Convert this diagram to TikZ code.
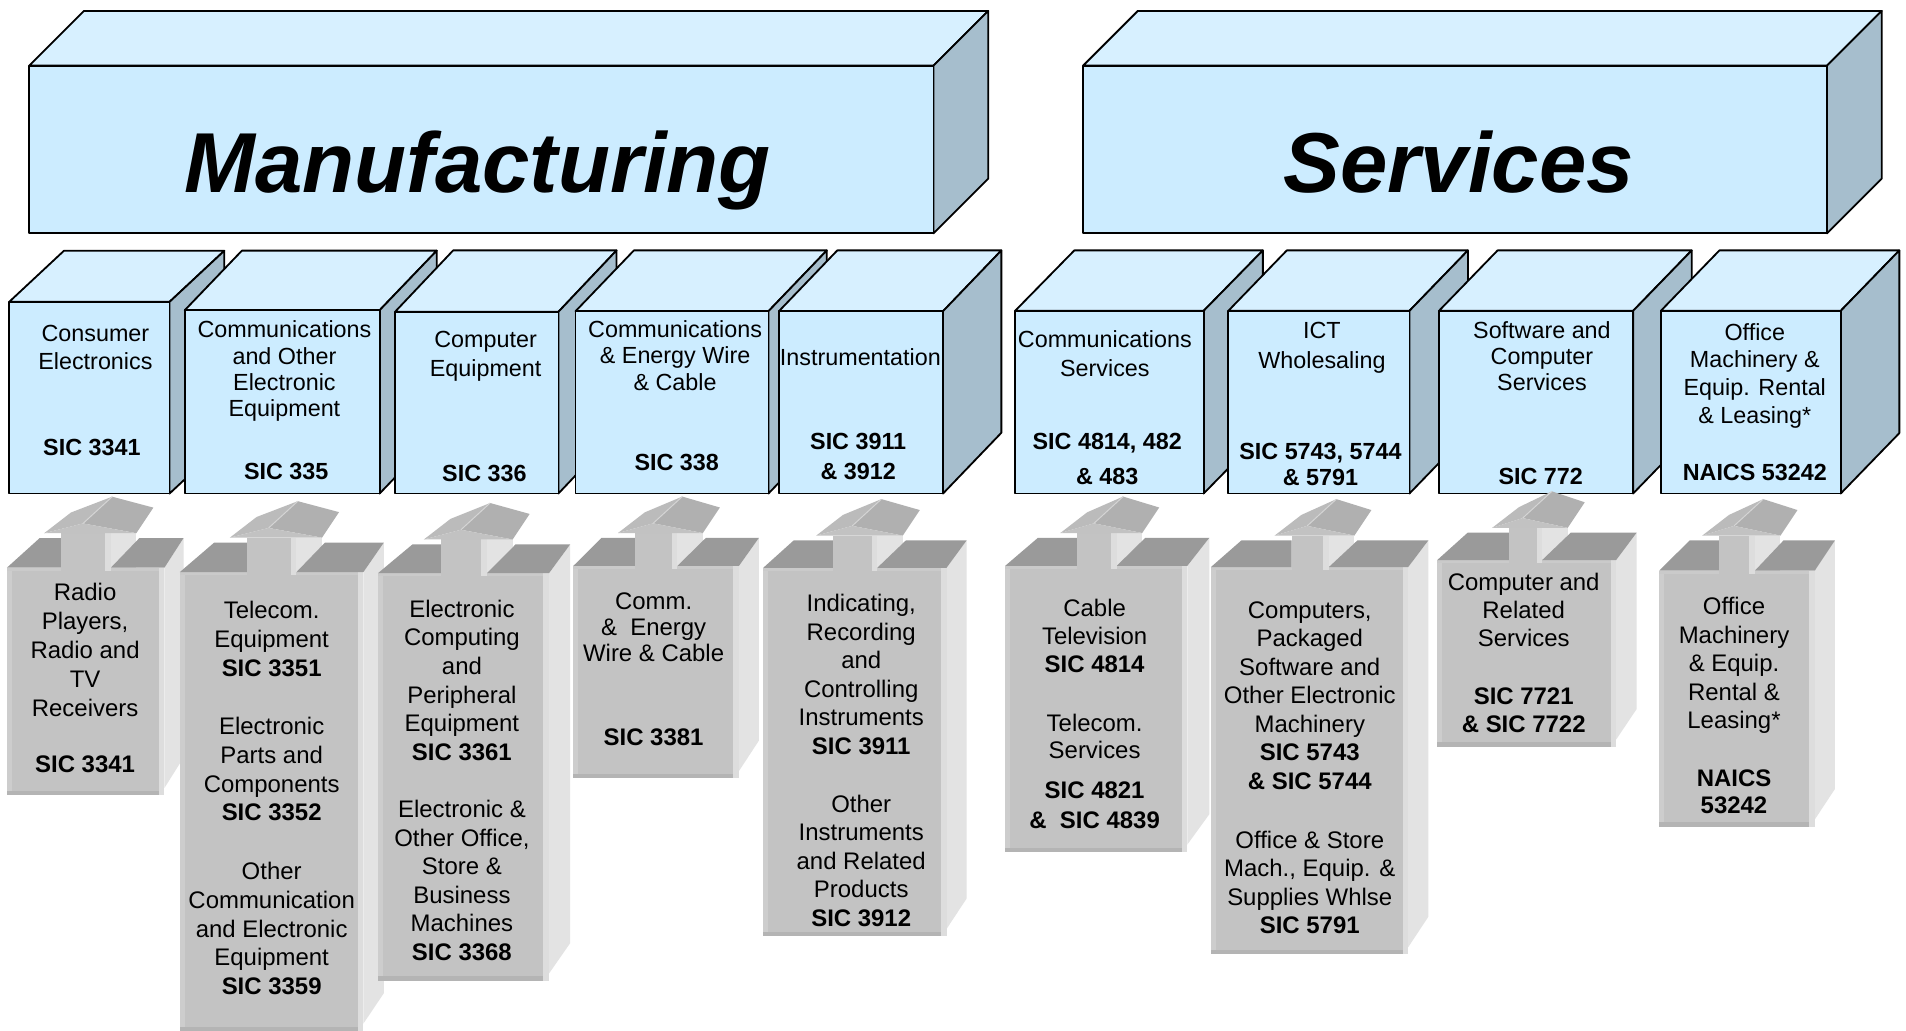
\documentclass[tikz,border=0pt]{standalone}
\usepackage{fontspec}
\setmainfont{Liberation Sans}

% blue cube colours
\definecolor{cubefront}{HTML}{CCECFF}
\definecolor{cubetop}{HTML}{D7F0FF}
\definecolor{cubeside}{HTML}{A6BECD}
% grey pillar colours
\definecolor{pilfront}{HTML}{C3C3C3}
\definecolor{pilleft}{HTML}{CDCDCD}
\definecolor{pilstrip}{HTML}{DDDDDD}
\definecolor{pilbottom}{HTML}{B4B4B4}
\definecolor{piledge}{HTML}{CACACA}
\definecolor{pilside}{HTML}{E3E3E3}
\definecolor{piltop}{HTML}{9A9A9A}
\definecolor{headleft}{HTML}{BBBBBB}
\definecolor{headright}{HTML}{B0B0B0}
\definecolor{headfront}{HTML}{C2C2C2}
\definecolor{headridge}{HTML}{D5D5D5}

\tikzset{
  cube front/.style={fill=cubefront, draw=black, line width=1.5pt, line join=round},
  cube top/.style={fill=cubetop, draw=black, line width=1.5pt, line join=round},
  cube side/.style={fill=cubeside, draw=black, line width=1.5pt, line join=round},
  headtxt/.style={font=\fontsize{70}{84}\selectfont\bfseries\itshape, anchor=base, inner sep=0pt},
  btxt/.style={font=\fontsize{19.2}{#1}\selectfont, align=center, anchor=north, inner sep=0pt},
  btxt/.default=22,
  gtxt/.style={font=\fontsize{19.7}{#1}\selectfont, align=center, anchor=north, inner sep=0pt},
  gtxt/.default=23.6
}

% blue cube: left, right, front top, bottom, depth x, depth y
\newcommand\cubebox[6]{%
  \filldraw[cube top] (#1,#3) -- (#1+#5,#3-#6) -- (#2+#5,#3-#6) -- (#2,#3) -- cycle;
  \filldraw[cube side] (#2,#3) -- (#2+#5,#3-#6) -- (#2+#5,#4-#6) -- (#2,#4) -- cycle;
  \filldraw[cube front] (#1,#3) rectangle (#2,#4);
}

% grey pillar with an upward arrow on its top
% #1 left, #2 right of front face, #3 front top, #4 back top, #5 bottom,
% #6 stem left, #7 stem right, #8 depth of left top face, #9 right of side face
\newcommand\pillar[9]{%
  \pgfmathsetmacro\pxs{#2+4.6}%
  \pgfmathsetmacro\plip{#4-4}%
  \pgfmathsetmacro\pbs{#7+4.6}%
  \pgfmathsetmacro\pL{#6-14}%
  \pgfmathsetmacro\pR{\pbs+21}%
  \pgfmathsetmacro\pA{(\pL+\pR)/2-6}%
  \fill[pilside] (\pxs,#3) -- (#9,#4) -- (#9,#5-31) -- (\pxs,#5-6) -- cycle;
  \fill[pilfront] (#1,#3) rectangle (#2,#5);
  \fill[pilleft] (#1,#3) rectangle (#1+4,#5);
  \fill[pilstrip] (#2,#3) rectangle (\pxs,#5);
  \fill[pilbottom] (#1,#5-3.5) rectangle (#2,#5);
  \fill[piledge] (#1,#3) rectangle (#2,#3+2.5);
  \fill[pilside] (\pbs,\plip) rectangle (\pR,#3);
  \fill[piltop] (#1,#3) -- (#1+#8,#4) -- (#6,#4) -- (#6,#3) -- cycle;
  \fill[piltop] (\pbs,#3) -- (\pbs+23.5,#4) -- (#9,#4) -- (\pxs,#3) -- cycle;
  \fill[pilfront] (#6,\plip) rectangle (#7,#3+2.5);
  \fill[pilstrip] (#7,\plip) rectangle (\pbs,#3+2.5);
  \fill[headleft] (\pL,\plip) -- (\pA,\plip-8) -- (\pA+24,\plip-30) -- (\pL+22,\plip-17) -- cycle;
  \fill[headright] (\pA,\plip-8) -- (\pR,\plip) -- (\pR+14,\plip-21) -- (\pA+24,\plip-30) -- cycle;
  \fill[headfront] (\pL,\plip) -- (\pA,\plip-8) -- (\pR,\plip) -- cycle;
  \draw[headridge, line width=0.8pt] (\pA,\plip-8) -- (\pA+24,\plip-30);
}

\begin{document}
\begin{tikzpicture}[x=1pt,y=-1pt]
\fill[white] (0,0) rectangle (1568,848);
\useasboundingbox (0,0) rectangle (1568,848);

% sector headings
\cubebox{24}{768}{54}{192}{45}{45}
\cubebox{891}{1503}{54}{192}{45}{45}
\node[headtxt] (manu) at (393,158.5) {Manufacturing};
\node[headtxt] (serv) at (1200,158.5) {Services};

% industry groups
\cubebox{7.6}{139.5}{248.3}{406}{45}{42}
\cubebox{152}{312.3}{255.2}{406}{47}{49}
\cubebox{325}{459.4}{256.5}{406}{47.8}{50.5}
\cubebox{473.5}{632.2}{256}{406}{48}{50}
\cubebox{640.8}{775.8}{256}{406}{48}{50}
\cubebox{835.1}{990.2}{255.7}{406}{48.7}{49.7}
\cubebox{1010.5}{1159.5}{255.7}{406}{48.1}{49.7}
\cubebox{1183.8}{1343.5}{255.7}{406}{48.2}{49.7}
\cubebox{1366.3}{1514.3}{255.7}{406}{48.2}{49.7}

\node[btxt=22.7] (g1) at (78.5,267.6) {Consumer\\Electronics};
\node[btxt] (g1s) at (75.6,361.4) {\textbf{SIC 3341}};
\node[btxt=21.6] (g2) at (234,263.8) {Communications\\and Other\\Electronic\\Equipment};
\node[btxt] (g2s) at (235.5,380.5) {\textbf{SIC 335}};
\node[btxt=23.2] (g3) at (399.5,272.6) {Computer\\Equipment};
\node[btxt] (g3s) at (398.5,382.7) {\textbf{SIC 336}};
\node[btxt=21.5] (g4) at (555.4,263.8) {Communications\\\& Energy Wire\\\& Cable};
\node[btxt] (g4s) at (556.7,373.1) {\textbf{SIC 338}};
\node[btxt] (g5) at (707.8,286.2) {Instrumentation};
\node[btxt=24.7] (g5s) at (706,355.8) {\textbf{SIC 3911}\\\textbf{\& 3912}};
\node[btxt=23.8] (g6) at (908.9,272) {Communications\\Services};
\node[btxt=28.7] (g6s) at (910.9,355.9) {\textbf{SIC 4814, 482}\\\textbf{\& 483}};
\node[btxt=24.5] (g7) at (1087.5,265) {ICT\\Wholesaling};
\node[btxt=22] (g7s) at (1086.3,364.1) {\textbf{SIC 5743, 5744}\\\textbf{\& 5791}};
\node[btxt=21.2] (g8) at (1268.5,264.4) {Software and\\Computer\\Services};
\node[btxt] (g8s) at (1267.5,385.1) {\textbf{SIC 772}};
\node[btxt=22.8] (g9) at (1443.6,265.8) {Office\\Machinery \&\\Equip. Rental\\\& Leasing*};
\node[btxt] (g9s) at (1443.6,381.8) {\textbf{NAICS 53242}};

% detailed industries
\pillar{5.7}{130.7}{467}{442.6}{654.2}{50.4}{86.6}{27}{151}
\node[gtxt=23.85] (pA) at (70,479.6) {Radio\\Players,\\Radio and\\TV\\Receivers\\[22.35pt]\textbf{SIC 3341}};

\pillar{148}{294.4}{470.6}{446.3}{848}{203.1}{239.3}{28.3}{315.8}
\node[gtxt=23.6] (pB) at (223.5,494.6) {Telecom.\\Equipment\\\textbf{SIC 3351}\\[24.7pt]Electronic\\Parts and\\Components\\\textbf{SIC 3352}\\[24.9pt]Other\\Communication\\and Electronic\\Equipment\\\textbf{SIC 3359}};

\pillar{311}{447.1}{471.5}{447.8}{806.8}{362.7}{396.1}{28.4}{469.1}
\node[gtxt=23.55] (pC) at (380,493.2) {Electronic\\Computing\\and\\Peripheral\\Equipment\\\textbf{SIC 3361}\\[23.5pt]Electronic \&\\Other Office,\\Store \&\\Business\\Machines\\\textbf{SIC 3368}};

\pillar{471.6}{603.3}{465.6}{442.5}{640.3}{522.4}{552.6}{23.3}{624.3}
\node[gtxt=21.4] (pD) at (537.7,487.3) {Comm.\\\&\ \ Energy\\Wire \& Cable\\[47.9pt]\textbf{SIC 3381}};

\pillar{627.9}{774.1}{467.1}{444.6}{770.2}{685.5}{717.1}{25}{795.2}
\node[gtxt=23.45] (pE) at (708.5,488.7) {Indicating,\\Recording\\and\\Controlling\\Instruments\\\textbf{SIC 3911}\\[24.2pt]Other\\Instruments\\and Related\\Products\\\textbf{SIC 3912}};

\pillar{826.8}{972.1}{465.6}{442.5}{700.9}{886.3}{914}{27}{994.8}
\node[gtxt=22.65] (pF) at (900.5,493.1) {Cable\\Television\\\textbf{SIC 4814}\\[25.9pt]Telecom.\\Services\\[10.3pt]\textbf{SIC 4821}\\[2pt]\textbf{\&\ \ SIC 4839}};

\pillar{996.2}{1153.9}{466.5}{444.6}{785.2}{1062.6}{1088.6}{25}{1175}
\node[gtxt=23.5] (pG) at (1077.5,494.5) {Computers,\\Packaged\\Software and\\Other Electronic\\Machinery\\\textbf{SIC 5743}\\\textbf{\& SIC 5744}\\[24.7pt]Office \& Store\\Mach., Equip. \&\\Supplies Whlse\\\textbf{SIC 5791}};

\pillar{1182.4}{1325}{460.7}{438.2}{614.3}{1241.6}{1264.1}{25}{1346.4}
\node[gtxt=23] (pH) at (1253.5,471.4) {Computer and\\Related\\Services\\[24.4pt]\textbf{SIC 7721}\\\textbf{\& SIC 7722}};

\pillar{1365}{1488.4}{469.4}{444.6}{680.1}{1414.4}{1439.1}{25}{1509.5}
\node[gtxt=23.45] (pI) at (1426.5,491.1) {Office\\Machinery\\\& Equip.\\Rental \&\\Leasing*\\[24.1pt]\textbf{NAICS}\\[-1.2pt]\textbf{53242}};
\end{tikzpicture}
\end{document}
